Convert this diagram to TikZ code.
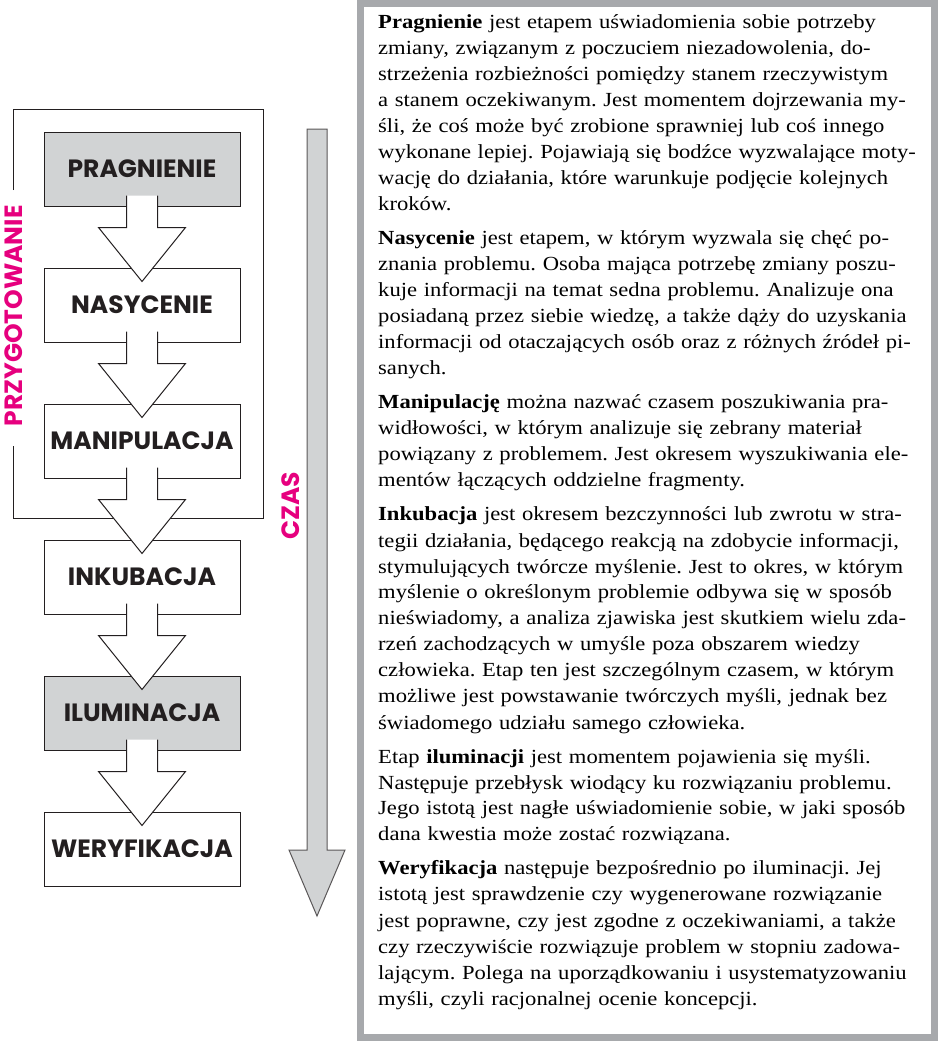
\documentclass[tikz,border=0pt]{standalone}
\usepackage{fontspec}
\setmainfont{Liberation Serif}[FakeStretch=1.13]
\newfontfamily\etapfont{Poppins}
\usepackage{tikz}
\usetikzlibrary{calc}

\definecolor{rozowy}{HTML}{E6007E}
\definecolor{szary}{HTML}{D1D3D4}
\definecolor{ramka}{HTML}{A7A9AC}
\definecolor{kontur}{HTML}{231F20}

\tikzset{
	etap/.style={draw=kontur, line width=1pt, minimum width=196pt, minimum height=74pt, inner sep=0pt, text=kontur, font=\etapfont\bfseries\fontsize{25}{25}\selectfont},
	strzalka/.style={draw=kontur, line width=1pt, fill=white},
	napis/.style={text=rozowy, inner sep=0pt, rotate=90, font=\etapfont\bfseries\fontsize{25}{25}\selectfont},
	opis/.style={anchor=base west, inner sep=0pt, text width=560pt, align=left, font=\fontsize{20}{26}\selectfont\frenchspacing}
}
\def\strzalka(#1)(#2){\draw[strzalka] ($(#1.south)+(-15.5,-11)$) -- ++(0,32) -- ++(-28,0) -- ($(#2.north)+(0,14)$) -- ($(#1.south)+(43.5,21)$) -- ++(-28,0) -- ++(0,-32);}

\begin{document}
\begin{tikzpicture}[x=1pt, y=-1pt]
		%%%%% START %%%%%
		\useasboundingbox (0,0) rectangle (937,1041);
		
		% ramka z opisem
		\draw[ramka, line width=7pt] (360.5,3.5) rectangle (934,1037.5);
		
		% przygotowanie
		\draw[kontur, line width=1pt] (13,190) -- (13,109) -- (263,109) -- (263,518) -- (13,518) -- (13,446);
		\node[napis] (przygotowanie) at (14,316) {PRZYGOTOWANIE};
		
		\node[etap, fill=szary] (pragnienie) at (142,169) {PRAGNIENIE};
		\node[etap] (nasycenie) at (142,305) {NASYCENIE};
		\node[etap] (manipulacja) at (142,441) {MANIPULACJA};
		\node[etap] (inkubacja) at (142,577) {INKUBACJA};
		\node[etap, fill=szary] (iluminacja) at (142,713) {ILUMINACJA};
		\node[etap] (weryfikacja) at (142,849) {WERYFIKACJA};
		
		\strzalka(pragnienie)(nasycenie)
		\strzalka(nasycenie)(manipulacja)
		\strzalka(manipulacja)(inkubacja)
		\strzalka(inkubacja)(iluminacja)
		\strzalka(iluminacja)(weryfikacja)
		
		% czas
		\draw[kontur!75, fill=szary, line width=1pt] (307,129) -- (327,129) -- (327,850) -- (345,850) -- (317,916) -- (289,850) -- (307,850) -- cycle;
		\node[napis] (czas) at (291,506) {CZAS};
		
		\node[opis] (opis) at (378,29) {%
			\textbf{Pragnienie} jest etapem uświadomienia sobie potrzeby\\
			zmiany, związanym z~poczuciem niezadowolenia, do-\\
			strzeżenia rozbieżności pomiędzy stanem rzeczywistym\\
			a~stanem oczekiwanym. Jest momentem dojrzewania my-\\
			śli, że coś może być zrobione sprawniej lub coś innego\\
			wykonane lepiej. Pojawiają się bodźce wyzwalające moty-\\
			wację do działania, które warunkuje podjęcie kolejnych\\
			kroków.\\[8pt]
			\textbf{Nasycenie} jest etapem, w~którym wyzwala się chęć po-\\
			znania problemu. Osoba mająca potrzebę zmiany poszu-\\
			kuje informacji na temat sedna problemu. Analizuje ona\\
			posiadaną przez siebie wiedzę, a~także dąży do uzyskania\\
			informacji od otaczających osób oraz z~różnych źródeł pi-\\
			sanych.\\[8pt]
			\textbf{Manipulację} można nazwać czasem poszukiwania pra-\\
			widłowości, w~którym analizuje się zebrany materiał\\
			powiązany z~problemem. Jest okresem wyszukiwania ele-\\
			mentów łączących oddzielne fragmenty.\\[8pt]
			\textbf{Inkubacja} jest okresem bezczynności lub zwrotu w~stra-\\
			tegii działania, będącego reakcją na zdobycie informacji,\\
			stymulujących twórcze myślenie. Jest to okres, w~którym\\
			myślenie o~określonym problemie odbywa się w~sposób\\
			nieświadomy, a~analiza zjawiska jest skutkiem wielu zda-\\
			rzeń zachodzących w~umyśle poza obszarem wiedzy\\
			człowieka. Etap ten jest szczególnym czasem, w~którym\\
			możliwe jest powstawanie twórczych myśli, jednak bez\\
			świadomego udziału samego człowieka.\\[8pt]
			Etap \textbf{iluminacji} jest momentem pojawienia się myśli.\\
			Następuje przebłysk wiodący ku rozwiązaniu problemu.\\
			Jego istotą jest nagłe uświadomienie sobie, w~jaki sposób\\
			dana kwestia może zostać rozwiązana.\\[8pt]
			\textbf{Weryfikacja} następuje bezpośrednio po iluminacji. Jej\\
			istotą jest sprawdzenie czy wygenerowane rozwiązanie\\
			jest poprawne, czy jest zgodne z~oczekiwaniami, a~także\\
			czy rzeczywiście rozwiązuje problem w~stopniu zadowa-\\
			lającym. Polega na uporządkowaniu i~usystematyzowaniu\\
			myśli, czyli racjonalnej ocenie koncepcji.};
		%%%%% END %%%%%
	\end{tikzpicture}
\end{document}
